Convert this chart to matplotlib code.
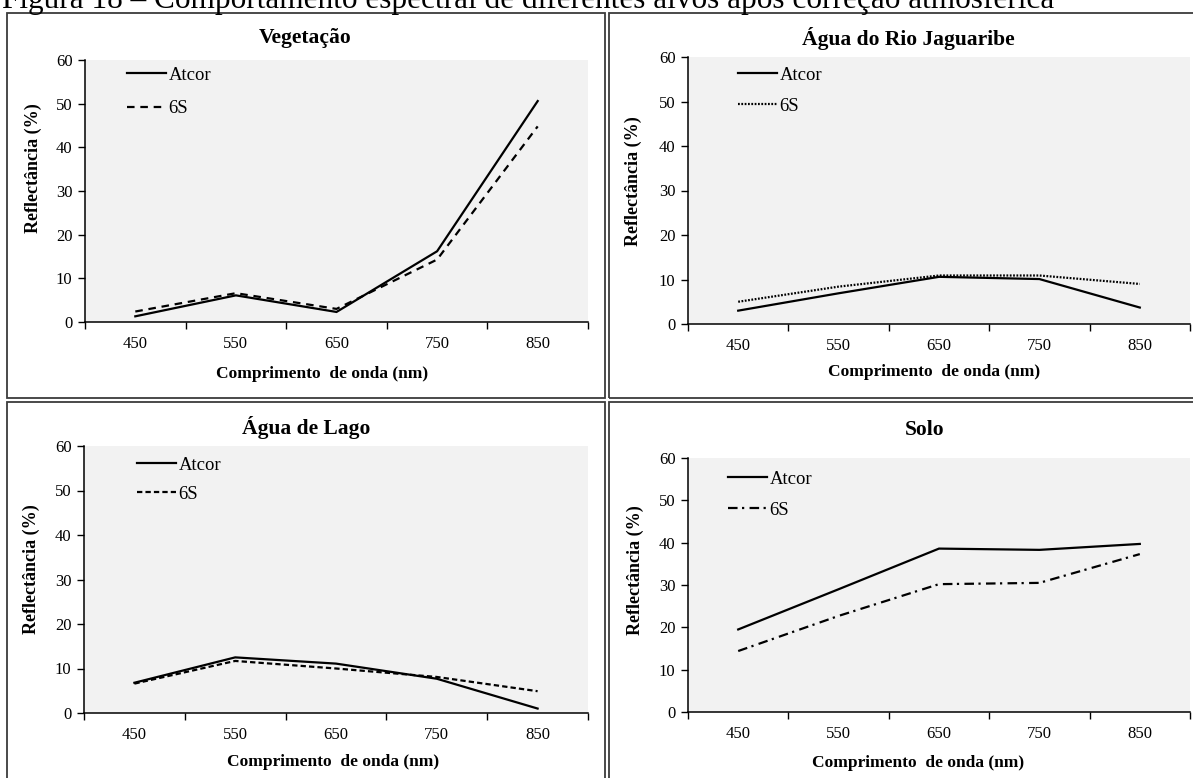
import matplotlib
matplotlib.use('Agg')
import matplotlib.pyplot as plt
from matplotlib.patches import Rectangle

plt.rcParams['font.family'] = 'Liberation Serif'

W, H = 1193, 778

comprimentos = ['450', '550', '650', '750', '850']

veg_atcor = [1.3, 6.1, 2.3, 16.2, 50.6]
veg_6s = [2.4, 6.6, 3.0, 14.3, 44.8]
rio_atcor = [3.0, 6.9, 10.6, 10.1, 3.7]
rio_6s = [5.0, 8.4, 10.9, 10.9, 9.0]
lago_atcor = [6.8, 12.5, 11.1, 7.7, 1.0]
lago_6s = [6.6, 11.7, 10.0, 8.1, 4.9]
solo_atcor = [19.5, 29.0, 38.6, 38.3, 39.7]
solo_6s = [14.4, 22.7, 30.2, 30.5, 37.3]

titulo_fig = 'Figura 18 – Comportamento espectral de diferentes alvos após correção atmosférica'

bold_font = {'family': 'Liberation Serif', 'weight': 'bold', 'color': 'black'}
fundo = '#f2f2f2'
cor_borda = '#3c3c3c'


def fx(px):
    return px / W


def fy(py):
    return 1 - py / H


def painel(fig, area, titulo, atcor, seis_s, estilo_6s, textos, leg_px, leg_esp):
    """Desenha um painel: area = (esq, topo, dir, base) em pixels."""
    l, t, r, b = area
    ax = fig.add_axes([fx(l), fy(b), (r - l) / W, (b - t) / H])
    ax.set_facecolor(fundo)
    x = range(1, len(comprimentos) + 1)
    ax.plot(x, atcor, color='black', lw=1.6, label='Atcor',
            solid_joinstyle='miter')
    ax.plot(x, seis_s, color='black', lw=1.6, linestyle=estilo_6s, label='6S')

    ax.set_xlim(0.5, len(comprimentos) + 0.5)
    ax.set_ylim(0, 60)
    ax.set_yticks(range(0, 61, 10))
    ax.set_xticks([i + 0.5 for i in range(len(comprimentos) + 1)])
    ax.set_xticks(list(x), minor=True)
    ax.set_xticklabels(comprimentos, minor=True)
    ax.tick_params(axis='x', which='major', length=5, width=1, labelbottom=False,
                   direction='out')
    ax.tick_params(axis='x', which='minor', length=0, pad=10, labelsize=12)
    ax.tick_params(axis='y', length=5, width=1, pad=4, labelsize=12)
    for s in ['top', 'right']:
        ax.spines[s].set_visible(False)
    for s in ['left', 'bottom']:
        ax.spines[s].set_linewidth(1.1)

    (tx, ty), (xx, xy), (yx, yy) = textos
    fig.text(fx(tx), fy(ty), titulo, fontdict=bold_font, fontsize=15.5,
             ha='center', va='center')
    fig.text(fx(xx), fy(xy), 'Comprimento  de onda (nm)', fontdict=bold_font,
             fontsize=12.5, ha='center', va='center')
    fig.text(fx(yx), fy(yy), 'Reflectância (%)', fontdict=bold_font,
             fontsize=13, ha='center', va='center', rotation=90)

    ax.legend(loc='upper left',
              bbox_to_anchor=((leg_px[0] - l) / (r - l), (b - leg_px[1]) / (b - t)),
              frameon=False, fontsize=13.5, handlelength=2.1, handletextpad=0.12,
              labelspacing=leg_esp, borderpad=0, borderaxespad=0)
    return ax


fig = plt.figure(figsize=(W / 100, H / 100), dpi=100)

# molduras dos quatro quadros
for (x0, y0, x1, y1) in [(7, 13, 605, 398), (609, 13, 1210, 398),
                         (7, 402, 605, 800), (609, 402, 1210, 800)]:
    fig.patches.append(Rectangle((fx(x0), fy(y1)), (x1 - x0) / W, (y1 - y0) / H,
                                 transform=fig.transFigure, fill=False,
                                 edgecolor=cor_borda, lw=1.3))

fig.text(fx(2), fy(8), titulo_fig, fontsize=22.5, ha='left', va='baseline')

painel(fig, (85, 60, 588, 322), 'Vegetação', veg_atcor, veg_6s,
       (0, (3.4, 2.6)),
       ((305, 38), (322, 374), (33, 168)), (127, 66.5), 0.87)
painel(fig, (688, 57, 1190, 324), 'Água do Rio Jaguaribe', rio_atcor, rio_6s,
       (0, (0.8, 0.7)),
       ((908, 38), (934, 372), (633, 181)), (738, 66.5), 0.76)
painel(fig, (84, 446, 588, 713), 'Água de Lago', lago_atcor, lago_6s,
       (0, (2.4, 1.4)),
       ((306, 427), (333, 762), (31, 569)), (137, 456.5), 0.65)
painel(fig, (688, 458, 1190, 712), 'Solo', solo_atcor, solo_6s,
       (0, (4.3, 2.0, 1.0, 2.4)),
       ((925, 430), (918, 763), (635, 570)), (728, 470.5), 0.76)

fig.savefig('out.png', dpi=100)
